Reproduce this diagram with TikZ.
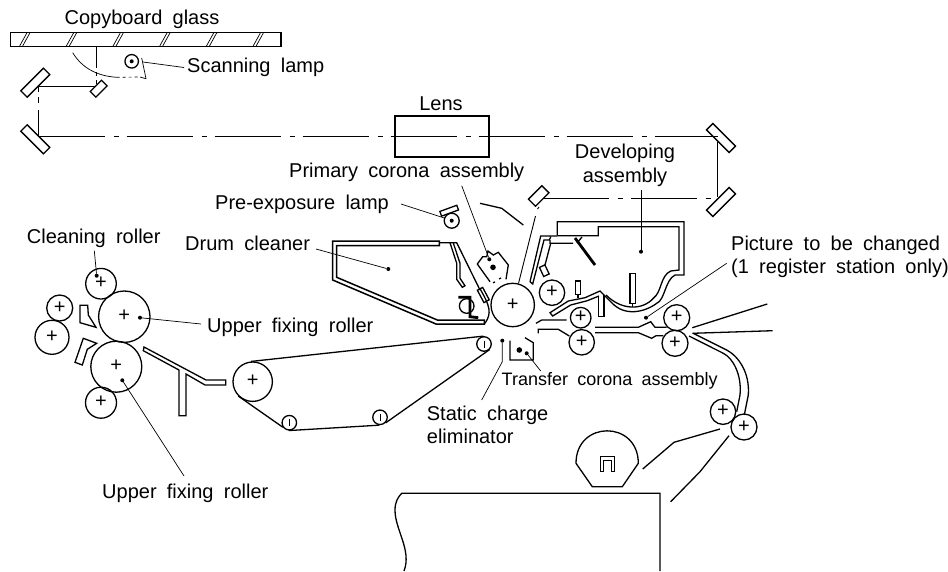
\documentclass[tikz,border=0pt]{standalone}
\usepackage{fontspec}
\setmainfont{Liberation Sans}[WordSpace=1.85]
\tikzset{
    part/.style={line width=1.3pt,line join=miter},
    heavy/.style={line width=2.8pt},
    leader/.style={line width=0.7pt},
    chain/.style={line width=0.9pt,dash pattern=on 66pt off 9pt on 5pt off 8pt},
    roller/.style={circle,draw,line width=1.3pt,inner sep=0pt,minimum size=#1pt,font=\fontsize{20}{20}\selectfont,text height=10pt,text depth=0pt},
    idler/.style={circle,draw,line width=1.3pt,inner sep=0pt,minimum size=14.5pt},
    mirror/.style={rectangle,draw,line width=1.3pt,inner sep=0pt,minimum width=#1pt},
    dot/.style={circle,fill,inner sep=0pt,minimum size=4pt},
    tag/.style={inner sep=0pt,align=left,font=\fontsize{20}{23.5}\selectfont}
}
\begin{document}
\begin{tikzpicture}[x=1pt,y=-1pt]
    \useasboundingbox (0,0) rectangle (948,571);
    %% copyboard and scanning lamp
    \node[tag] (glasstag) at (142,19) {Copyboard glass};
    \draw[part,line width=1.5pt] (10.7,32.7) rectangle (281,46.3);
    \foreach \x in {0,...,5} {
        \draw[leader] (19.5+46.7*\x,46.3) -- ++(7.5,-13.6);
        \draw[leader] (22.5+46.7*\x,46.3) -- ++(7.5,-13.6);
    }
    \node[circle,draw,line width=1.3pt,minimum size=13.5pt,inner sep=0pt] (scanlamp) at (131.7,61.3) {};
    \node[dot] (scandot) at (131.7,61.3) {};
    \node[tag,anchor=west] (scantag) at (187,67.5) {Scanning lamp};
    \coordinate (scanend) at (143,62);
    \draw[leader] (scantag.west) ++(-3,0) -- (scanend);
    \draw[leader] (72.7,52.7) .. controls (82,68) and (97,76) .. (116.7,77.3);
    \draw[leader,dashed] (116.7,77.3) -- (140,77);
    \draw[leader] (140,77) -- (146,78.7) -- (141.7,58);
    %% mirrors and light path
    \node[mirror=32,minimum height=9pt,rotate=45] (mirrorA) at (35.3,82.7) {};
    \node[mirror=32,minimum height=9pt,rotate=-45] (mirrorB) at (35.3,139.3) {};
    \node[mirror=16,minimum height=8pt,rotate=45] (mirrorC) at (98.7,88.7) {};
    \node[mirror=32,minimum height=9pt,rotate=-45] (mirrorD) at (721,138) {};
    \node[mirror=32,minimum height=9pt,rotate=45] (mirrorE) at (721,202) {};
    \node[mirror=19,minimum height=10pt,rotate=45] (mirrorF) at (538.7,196) {};
    \draw[leader,line width=0.9pt] (96.3,46.7) -- (96.3,68);
    \draw[leader,line width=0.9pt] (96.3,72) -- (96.3,76);
    \draw[leader,line width=0.9pt] (96.3,80) -- (96.3,84);
    \draw[leader,line width=0.9pt] (38.7,86) -- (96,86);
    \draw[leader,line width=0.9pt] (38.7,87) -- (38.7,92);
    \draw[leader,line width=0.9pt] (38.7,97) -- (38.7,103);
    \draw[leader,line width=0.9pt] (38.7,110) -- (38.7,136);
    \draw[chain] (38.7,136.5) -- (718,136.5);
    \draw[leader,line width=0.9pt] (717.7,142) -- (717.7,197);
    \draw[chain] (543,198.3) -- (713,198.3);
    \node[rectangle,draw,line width=1.3pt,minimum width=94pt,minimum height=41pt,inner sep=0pt] (lens) at (442,136.5) {};
    \node[tag] (lenstag) at (441,104) {Lens};
    %% labels above the drum
    \node[tag,anchor=west] (primarytag) at (289,172.5) {Primary corona assembly};
    \node[tag,anchor=west] (pretag) at (215,204) {Pre-exposure lamp};
    \node[tag,align=center] (devtag) at (625,165.5) {Developing\\assembly};
    \node[tag,anchor=west] (drumtag) at (185,243) {Drum cleaner};
    \node[tag,anchor=west] (cleantag) at (26.7,238) {Cleaning roller};
    \node[tag,anchor=west] (pictag) at (731,257) {Picture to be changed\\(1 register station only)};
    %% pre-exposure lamp
    \node[circle,draw,line width=1.3pt,minimum size=15pt,inner sep=0pt] (prelamp) at (451.7,220.7) {};
    \node[dot] (predot) at (451.7,220.7) {};
    \node[rectangle,draw,line width=1.3pt,minimum width=18pt,minimum height=5pt,inner sep=0pt,rotate=20] (prerefl) at (449.2,210.7) {};
    \coordinate (prestart) at (401,204);
    \draw[leader] (prestart) -- (prelamp.160);
    \draw[part] (480,203.3) -- (501.7,208.3) -- (523.3,225);
    %% drum and cleaner
    \node[roller=43.4] (drum) at (512.7,305) {+};
    \draw[part,line width=1.5pt] (439.3,241) -- (332.7,241) -- (332.7,280) -- (436,324) -- (484.3,324) -- (484.3,320) -- (437.3,320) -- (336.7,277.3) -- (336.7,245.7) -- (439.3,245.7) -- cycle;
    \draw[part] (439.3,242.7) -- (456.7,242.7) -- (480,290);
    \draw[part] (450,242.7) -- (456.7,263.3) -- (456.7,279.3) -- (462.3,287.3) -- (465,285.7) -- (460,278.3) -- (460,263.3) -- (453.3,243);
    \node[rectangle,draw,line width=1.3pt,minimum width=14pt,minimum height=6pt,inner sep=0pt,rotate=-62] (cleanpad) at (483.3,295) {};
    \draw[part] (cleanpad.west) .. controls (490,306) and (492,313) .. (485,323.3);
    \node[circle,draw,line width=1.3pt,minimum size=14.6pt,inner sep=0pt] (brush) at (466.7,306) {};
    \draw[heavy] (458.3,297.3) -- (470,297.3) -- (470,316.7) -- (478.3,317.7);
    \node[dot] (cleandot) at (388.3,269) {};
    \coordinate (cleanstart) at (316,249);
    \draw[leader] (cleanstart) -- (cleandot);
    %% primary corona
    \draw[part] (490,281.7) -- (477.3,264) -- (482.7,256.7) -- (486.7,256.7) -- (488,251) -- (493.3,255) -- (498.3,252.3) -- (508.3,265) -- (506,279.3);
    \node[dot] (primdot) at (489.3,259.3) {};
    \node[dot,minimum size=5.6pt] (wire) at (493,267.3) {};
    \draw[part] (493,282.7) -- (495,282) (499,279) -- (501,278);
    \coordinate (primstart) at (461.7,185.7);
    \draw[leader] (primstart) -- (primdot);
    \draw[leader,line width=0.9pt] (drum.75) -- (535.5,216);
    \draw[leader,line width=0.9pt] (537.5,209) -- (539,207);
    %% developing assembly
    \draw[part] (557.3,235.7) -- (557.3,221.7) -- (684,221.7) -- (684,275) -- (675,275) .. controls (665,280) and (665,300) .. (656.7,303.3) .. controls (645,312) and (625,317) .. (611.7,302.7) -- (600,291) -- (585,297.7) -- (568.3,301) -- (550,312.7) -- (552.7,316) -- (570.7,305) -- (587.3,300.7) -- (599,296);
    \draw[part] (557.3,235.7) -- (598.3,235.7) -- (598.3,226.7) -- (679,226.7) -- (679,270) -- (670.7,271) .. controls (660,276) and (662,292) .. (653.3,298.3) .. controls (643,310) and (622,311) .. (606,295);
    \draw[part] (530,281.7) -- (540.7,236) -- (557.3,236) (530,281.7) -- (532.7,284) -- (544,240) -- (549.3,240) -- (550.7,237);
    \draw[part] (550,240) -- (550,243.3) -- (573,243.3) (550.7,243.3) -- (545,265);
    \node[rectangle,draw,line width=1.3pt,minimum width=10pt,minimum height=6pt,inner sep=0pt,rotate=-65] (devpad) at (544.3,270.7) {};
    \draw[heavy] (575,238) -- (595,265);
    \draw[part] (582,237) -- (577,243);
    \node[dot] (devdot) at (641,251.7) {};
    \coordinate (devstart) at (641,190);
    \draw[leader,line width=0.9pt] (devstart) -- (devdot);
    \node[rectangle,draw,line width=1.3pt,minimum width=5pt,minimum height=13.5pt,inner sep=0pt] (stickA) at (578,287.7) {};
    \draw[part] (stickA.south) -- (578,298.3);
    \node[rectangle,draw,line width=1.3pt,minimum width=5.7pt,minimum height=30pt,inner sep=0pt] (stickB) at (632.8,288.3) {};
    \draw[part] (stickB.south) -- (632.8,307.3);
    \draw[part] (598.5,296.5) -- (598.5,316.7) -- (604,316.7) -- (604,295);
    %% rollers on the paper path
    \node[roller=25.4] (devroll) at (552,292.7) {+};
    \node[roller=20.6] (regA) at (580.7,317.7) {+};
    \node[roller=25.4] (regB) at (581.7,342.3) {+};
    \node[roller=26] (feedA) at (676.7,317.7) {+};
    \node[roller=26] (feedB) at (675,343.3) {+};
    \node[roller=25.4] (pickA) at (723,411.7) {+};
    \node[roller=26] (pickB) at (744,427) {+};
    \draw[part] (536,323.3) -- (541.7,320) -- (566.7,320);
    \draw[part] (538.3,333.3) -- (538.3,329.3) -- (558.3,329.3) -- (569.3,336);
    \draw[part] (595,327.3) -- (638.3,327.3) -- (650.7,321.7) -- (655,327.3) -- (666.7,327.3);
    \draw[part] (595,332.7) -- (638.3,332.7) -- (651.7,338.3) -- (656,335.7) -- (663.3,335.7);
    \node[dot] (picdot) at (646,317.7) {};
    \coordinate (picstart) at (726.7,263.3);
    \draw[leader] (picstart) -- (picdot);
    \draw[part] (692.3,327.7) -- (767.3,304);
    \draw[part] (692.3,333.3) -- (772.7,330.7);
    \draw[part] (693.3,333.3) -- (726.7,350) .. controls (738,356) and (750,372) .. (748.3,395) -- (744.3,415);
    \draw[part] (689,336) -- (723.3,353.3) .. controls (733,358) and (742,375) .. (740,395) -- (736.7,411.7);
    %% transfer corona and static charge eliminator
    \draw[part] (510,340.7) -- (510,360) -- (533.3,360) -- (533.3,342.7) -- (525,337.7);
    \node[dot,minimum size=5.6pt] (transwire) at (519.3,350) {};
    \node[dot] (transdot) at (526.7,353.3) {};
    \coordinate (transend) at (540.7,371);
    \draw[leader] (transdot) -- (transend);
    \node[tag,anchor=west,font=\fontsize{18}{20}\selectfont] (transtag) at (501.5,380.5) {Transfer corona assembly};
    \node[dot] (staticdot) at (502.3,340.7) {};
    \coordinate (statickink) at (502.3,361.7);
    \coordinate (staticend) at (481.7,400);
    \draw[leader] (staticdot) -- (statickink) -- (staticend);
    \node[tag,anchor=west] (statictag) at (426.7,425) {Static charge\\eliminator};
    %% transport belt
    \node[roller=39.4] (beltdrive) at (252.7,381.7) {+};
    \node[idler] (beltA) at (484,344) {};
    \node[idler] (beltB) at (289.3,422.7) {};
    \node[idler] (beltC) at (380,417.3) {};
    \foreach \n in {beltA,beltB,beltC} {
        \draw[leader] ([yshift=3.5pt]\n.center) -- ([yshift=-3.5pt]\n.center);
    }
    \draw[part] (beltdrive.95) -- (beltA.95);
    \draw[part] (beltA.-45) -- (beltC.-45);
    \draw[part] (beltC.-95) -- (beltB.-95);
    \draw[part] (beltB.215) -- (beltdrive.225);
    %% fixing section
    \node[roller=30.6] (cleanroll) at (101,283.7) {+};
    \node[roller=51.4] (upperfix) at (124.3,316.7) {+};
    \node[roller=51] (lowerfix) at (116.3,366.7) {+};
    \node[roller=31] (backroll) at (101,402.7) {+};
    \node[roller=26] (oilA) at (59.7,308) {+};
    \node[roller=34] (oilB) at (52,337.3) {+};
    \draw[part] (80,305.3) -- (87.7,305.3) -- (88.3,315) -- (96,327.3) -- (80,322.7) -- cycle;
    \draw[part] (83.3,338.3) -- (96.7,343.3) -- (87.3,349.3) -- (82.3,365) -- (75,362.3) -- cycle;
    \draw[part] (144,347) -- (206,380) -- (225.7,380) -- (225.7,385) -- (205,385) -- (186,374) -- (186,415.7) -- (179,415.7) -- (179,370) -- (143.3,350.7) -- cycle;
    \node[dot] (cleanrolldot) at (96.7,275.7) {};
    \coordinate (cleanrollstart) at (94.3,250.7);
    \draw[leader] (cleanrollstart) -- (cleanrolldot);
    \node[dot] (upperdot) at (140,317.7) {};
    \node[tag,anchor=west] (uppertag) at (207,327) {Upper fixing roller};
    \coordinate (upperstart) at (201,324);
    \draw[leader] (upperstart) -- (upperdot);
    \node[dot] (lowerdot) at (122.3,380.3) {};
    \node[tag,anchor=west] (lowertag) at (102,493) {Upper fixing roller};
    \coordinate (lowerend) at (184,476);
    \draw[leader] (lowerdot) -- (lowerend);
    %% paper tray and cassette
    \draw[part] (576,463.3) .. controls (576,420) and (638.3,420) .. (638.3,463.3) -- (622.3,486.7) -- (592.3,486.7) -- cycle;
    \draw[part,line width=1pt] (600,471) -- (600,456.7) -- (614.3,456.7) -- (614.3,471) -- (611,471) -- (611,460) -- (603.5,460) -- (603.5,471) -- cycle;
    \draw[part] (642.7,469) -- (674,442.3) -- (720,429);
    \draw[part] (670.7,501.7) -- (700,471.7) -- (729,435.7);
    \draw[part] (404,571) .. controls (412,550) and (395,530) .. (395,510) .. controls (395,502) and (398,497) .. (401.7,493.3) -- (660,493.3) -- (660,571);
\end{tikzpicture}
\end{document}
